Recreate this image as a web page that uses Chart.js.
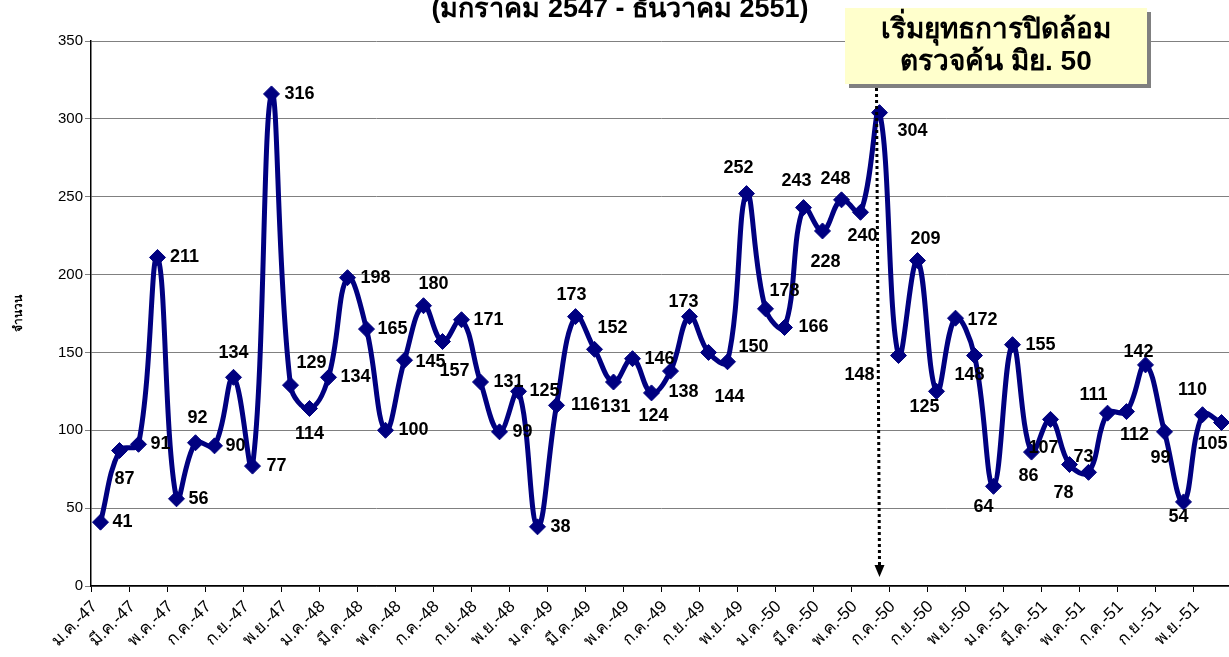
<!DOCTYPE html>
<html>
<head>
<meta charset="utf-8">
<script src="https://cdn.jsdelivr.net/npm/chart.js@4/dist/chart.umd.min.js"></script>
<style>
html,body{margin:0;padding:0;background:#fff;overflow:hidden;width:1229px;height:657px;}
canvas{display:block;}
</style>
</head>
<body>
<canvas id="c" width="1240" height="657"></canvas>
<script>
const categories = [
 'ม.ค.-47','ก.พ.-47','มี.ค.-47','เม.ย.-47','พ.ค.-47','มิ.ย.-47','ก.ค.-47','ส.ค.-47','ก.ย.-47','ต.ค.-47','พ.ย.-47','ธ.ค.-47',
 'ม.ค.-48','ก.พ.-48','มี.ค.-48','เม.ย.-48','พ.ค.-48','มิ.ย.-48','ก.ค.-48','ส.ค.-48','ก.ย.-48','ต.ค.-48','พ.ย.-48','ธ.ค.-48',
 'ม.ค.-49','ก.พ.-49','มี.ค.-49','เม.ย.-49','พ.ค.-49','มิ.ย.-49','ก.ค.-49','ส.ค.-49','ก.ย.-49','ต.ค.-49','พ.ย.-49','ธ.ค.-49',
 'ม.ค.-50','ก.พ.-50','มี.ค.-50','เม.ย.-50','พ.ค.-50','มิ.ย.-50','ก.ค.-50','ส.ค.-50','ก.ย.-50','ต.ค.-50','พ.ย.-50','ธ.ค.-50',
 'ม.ค.-51','ก.พ.-51','มี.ค.-51','เม.ย.-51','พ.ค.-51','มิ.ย.-51','ก.ค.-51','ส.ค.-51','ก.ย.-51','ต.ค.-51','พ.ย.-51','ธ.ค.-51'
];
const counts = [
 41,87,91,211,56,92,90,134,77,316,129,114,
 134,198,165,100,145,180,157,171,131,99,125,38,
 116,173,152,131,146,124,138,173,150,144,252,178,
 166,243,228,248,240,304,148,209,125,172,148,64,
 155,86,107,78,73,111,112,142,99,54,110,105
];
const yTicks = [0,50,100,150,200,250,300,350];
const titleText = '(มกราคม 2547 - ธันวาคม 2551)';
const yAxisTitle = 'จำนวน';
const calloutLines = ['เริ่มยุทธการปิดล้อม','ตรวจค้น มิย. 50'];
const eventIndex = 41; // มิ.ย.-50

// label placement (dx, dy of label centre relative to marker) - styling only
const labelOffsets = [
 [22,0],[5,29],[22,0],[27,0],[22,0],[2,-25],[21,0],[0,-24],[24,0],[28,0],[21,-22],[0,26],
 [27,0],[28,0],[26,0],[28,0],[26,2],[10,-22],[12,30],[27,0],[28,0],[23,0],[26,0],[23,0],
 [29,0],[-4,-22],[18,-21],[2,25],[27,0],[2,23],[13,21],[-6,-15],[45,-5],[2,35],[-8,-26],[19,-18],
 [29,0],[-7,-27],[3,31],[-6,-21],[2,24],[33,18],[-39,19],[8,-22],[-12,16],[27,2],[-5,19],[-10,21],
 [28,0],[-3,24],[-7,29],[-6,28],[-5,-15],[-14,-18],[8,23],[-7,-13],[-4,26],[-5,15],[-10,-25],[-9,22]
];

const FONT = '"Liberation Sans", Arial, sans-serif';

const overlay = {
  id: 'overlay',
  afterDatasetsDraw(chart) {
    const ctx = chart.ctx;
    const meta = chart.getDatasetMeta(0);
    ctx.save();
    ctx.fillStyle = '#000';
    ctx.font = 'bold 18px ' + FONT;
    ctx.textAlign = 'center';
    ctx.textBaseline = 'middle';
    meta.data.forEach((pt, i) => {
      const o = labelOffsets[i] || [20, 0];
      ctx.fillText(String(counts[i]), pt.x + o[0], pt.y + o[1]);
    });
    ctx.restore();
  },
  afterDraw(chart) {
    const ctx = chart.ctx;
    const xs = chart.scales.x;
    const yb = chart.chartArea.bottom;
    ctx.save();
    // x category labels (every second month), rotated 45 degrees
    ctx.fillStyle = '#000';
    ctx.font = '17px ' + FONT;
    ctx.textAlign = 'right';
    ctx.textBaseline = 'middle';
    categories.forEach((lab, i) => {
      if (i % 2 !== 0) return;
      const x = xs.getPixelForValue(i);
      ctx.save();
      ctx.translate(x - 6, yb + 18);
      ctx.rotate(-Math.PI / 4);
      ctx.fillText(lab, 0, 0);
      ctx.restore();
    });
    // dotted arrow
    const ex = xs.getPixelForValue(eventIndex);
    ctx.strokeStyle = '#000';
    ctx.lineWidth = 3;
    ctx.setLineDash([3, 3]);
    ctx.beginPath();
    ctx.moveTo(ex - 3, 88);
    ctx.lineTo(ex, yb - 20);
    ctx.stroke();
    ctx.setLineDash([]);
    ctx.beginPath();
    ctx.moveTo(ex - 5, yb - 21);
    ctx.lineTo(ex + 5, yb - 21);
    ctx.lineTo(ex, yb - 9);
    ctx.closePath();
    ctx.fill();
    // callout box
    ctx.fillStyle = '#808080';
    ctx.fillRect(849, 12, 302, 76);
    ctx.fillStyle = '#FFFFCC';
    ctx.fillRect(845, 8, 302, 76);
    ctx.fillStyle = '#000';
    ctx.font = 'bold 28px ' + FONT;
    ctx.textAlign = 'center';
    ctx.textBaseline = 'middle';
    ctx.fillText(calloutLines[0], 996, 30);
    ctx.fillText(calloutLines[1], 996, 62);
    // title (top cropped)
    ctx.font = 'bold 27px ' + FONT;
    ctx.textBaseline = 'alphabetic';
    ctx.fillText(titleText, 620, 17);
    ctx.restore();
  }
};

new Chart(document.getElementById('c'), {
  type: 'line',
  data: {
    labels: categories,
    datasets: [{
      data: counts,
      borderColor: '#000080',
      backgroundColor: '#000080',
      borderWidth: 5,
      tension: 0.4,
      pointStyle: 'rectRot',
      pointRadius: 8,
      pointHoverRadius: 8,
      pointBackgroundColor: '#000080',
      pointBorderColor: '#000080',
      pointBorderWidth: 1,
      fill: false,
      clip: false
    }]
  },
  options: {
    responsive: false,
    animation: false,
    events: [],
    layout: { padding: { top: 41, right: 0, left: 0, bottom: 0 } },
    plugins: { legend: { display: false }, tooltip: { enabled: false }, title: { display: false } },
    scales: {
      x: {
        type: 'category',
        offset: true,
        afterFit(s) { s.height = 71; },
        grid: {
          offset: true,
          drawOnChartArea: false,
          drawTicks: true,
          tickLength: 6,
          color: (c) => (c.index % 2 === 0 ? '#000' : 'rgba(0,0,0,0)')
        },
        border: { display: true, color: '#000', width: 1.5 },
        ticks: {
          autoSkip: false,
          maxRotation: 0,
          minRotation: 0,
          color: 'rgba(0,0,0,0)',
          font: { family: FONT, size: 1 },
          callback: () => ''
        }
      },
      y: {
        min: 0,
        max: 350,
        afterFit(s) { s.width = 91; },
        afterBuildTicks(s) { s.ticks = yTicks.map(v => ({ value: v })); },
        grid: { color: '#808080', lineWidth: 1, drawTicks: true, tickLength: 6 },
        border: { display: true, color: '#000', width: 1.5 },
        ticks: { color: '#000', padding: 2, font: { family: FONT, size: 15 } },
        title: {
          display: true,
          text: yAxisTitle,
          color: '#000',
          font: { family: FONT, size: 12, weight: 'bold' },
          padding: { top: 11, bottom: 0 }
        }
      }
    }
  },
  plugins: [overlay]
});
</script>
</body>
</html>
